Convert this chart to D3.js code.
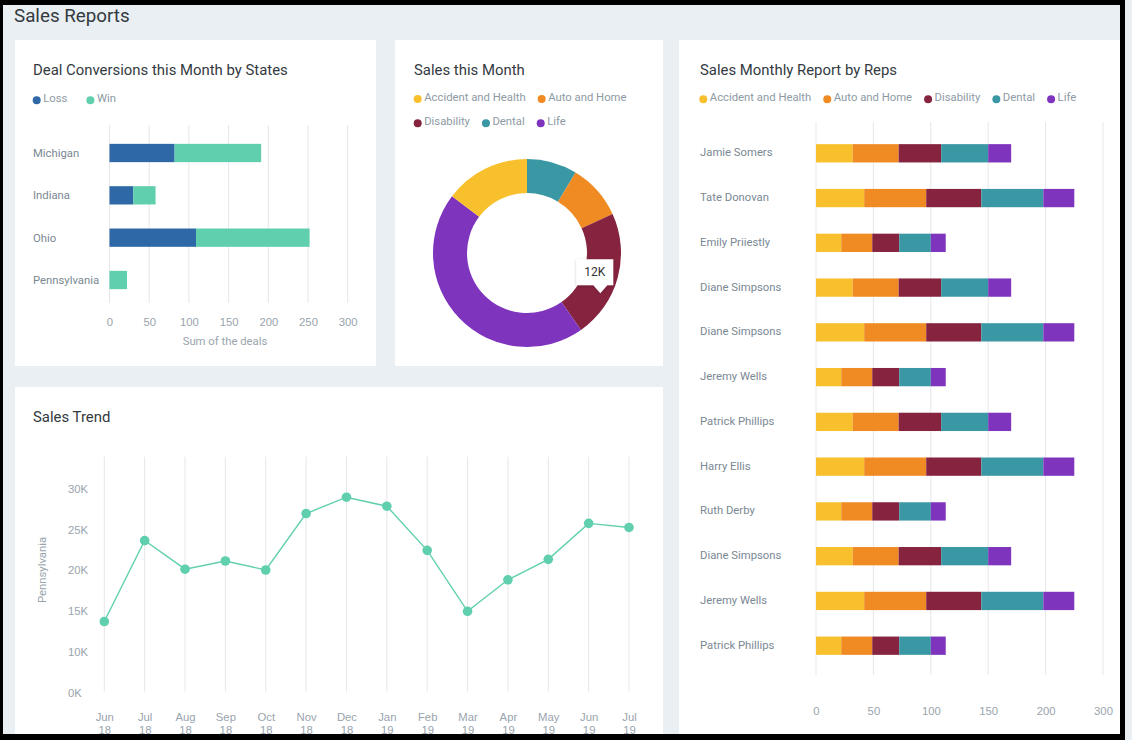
<!DOCTYPE html>
<html><head><meta charset="utf-8">
<script src="https://cdn.jsdelivr.net/npm/d3@7"></script>
<style>
body{margin:0;background:#e9eff2;}
svg{display:block;font-family:Roboto, "Noto Sans", sans-serif;}
</style>
</head><body>
<svg id="c" width="1132" height="740"></svg>
<script>
// ---------- DATA ----------
const stateCats = ["Michigan", "Indiana", "Ohio", "Pennsylvania"];
const dealKeys = ["Loss", "Win"];
const lossValues = [82, 30, 109, 0];
const winValues = [109, 28, 143, 22];
const dealTicks = [0, 50, 100, 150, 200, 250, 300];

const productCats = ["Accident and Health", "Auto and Home", "Disability", "Dental", "Life"];
const productColors = ["#f8c02c", "#ef8b22", "#86243f", "#3a97a4", "#7e34bd"];

const donutOrder = ["Dental", "Auto and Home", "Disability", "Life", "Accident and Health"];
const donutValues = [4.7, 5.2, 12, 24.5, 8]; // thousands
const tooltipCategory = "Disability";
const tooltipLabel = "12K";

const reps = ["Jamie Somers", "Tate Donovan", "Emily Priiestly", "Diane Simpsons", "Diane Simpsons", "Jeremy Wells",
  "Patrick Phillips", "Harry Ellis", "Ruth Derby", "Diane Simpsons", "Jeremy Wells", "Patrick Phillips"];
const accidentHealth = [32, 42, 22, 32, 42, 22, 32, 42, 22, 32, 42, 22];
const autoHome       = [40, 54, 27, 40, 54, 27, 40, 54, 27, 40, 54, 27];
const disability     = [37, 48, 23.5, 37, 48, 23.5, 37, 48, 23.5, 37, 48, 23.5];
const dental         = [41, 54, 27.5, 41, 54, 27.5, 41, 54, 27.5, 41, 54, 27.5];
const life           = [20, 52, 13, 20, 52, 13, 20, 52, 13, 20, 52, 13];
const repTicks = [0, 50, 100, 150, 200, 300];

const months = ["Jun 18", "Jul 18", "Aug 18", "Sep 18", "Oct 18", "Nov 18", "Dec 18", "Jan 19", "Feb 19", "Mar 19", "Apr 19", "May 19", "Jun 19", "Jul 19"];
const trendValues = [13.7, 23.6, 20.1, 21.1, 20.0, 26.9, 28.9, 27.8, 22.4, 14.95, 18.8, 21.3, 25.7, 25.2]; // thousands
const trendTicks = [0, 10, 15, 20, 25, 30];
const trendAxisLabel = "Pennsylvania";

// ---------- STYLE ----------
const FS = 11.3;
const C = {
  bg: "#e9eff2", title: "#333a3f", legend: "#8d9aa4", cat: "#7a8893", tick: "#99a4ad",
  grid: "#e6e7e9", loss: "#2f68a6", win: "#5fcfae", line: "#5fcfae"
};

const svg = d3.select("#c");
svg.append("rect").attr("width", 1132).attr("height", 740).attr("fill", C.bg);

const defs = svg.append("defs");
const f = defs.append("filter").attr("id", "sh").attr("x", "-30%").attr("y", "-30%").attr("width", "160%").attr("height", "180%");
f.append("feDropShadow").attr("dx", 0).attr("dy", 1).attr("stdDeviation", 1.6).attr("flood-color", "#000").attr("flood-opacity", 0.22);

// panels
[[15, 40, 361, 326], [395, 40, 268, 326], [679, 40, 446, 700], [15, 387, 648, 353]].forEach(p => {
  svg.append("rect").attr("x", p[0]).attr("y", p[1]).attr("width", p[2]).attr("height", p[3]).attr("fill", "#fff");
});

svg.append("text").attr("x", 14).attr("y", 22).attr("font-size", 18.8).attr("fill", C.title).text("Sales Reports");

function title(x, y, t) {
  svg.append("text").attr("x", x).attr("y", y).attr("dy", "0.35em").attr("font-size", 14.9).attr("fill", C.title).text(t);
}
function legend(items, colors, x, y, gap) {
  let cx = x;
  items.forEach((t, i) => {
    svg.append("circle").attr("cx", cx).attr("cy", y + 2.3).attr("r", 4).attr("fill", colors[i]);
    const tx = svg.append("text").attr("x", cx + 6.5).attr("y", y).attr("dy", "0.35em")
      .attr("font-size", FS).attr("fill", C.legend).text(t);
    cx += 6.5 + tx.node().getComputedTextLength() + gap;
  });
}
function evenScale(ticks, r0, r1) {
  return d3.scaleLinear().domain(ticks).range(ticks.map((d, i) => r0 + i * (r1 - r0) / (ticks.length - 1)));
}

// ---------- PANEL 1: Deal conversions ----------
title(33, 70, "Deal Conversions this Month by States");
legend(dealKeys, [C.loss, C.win], 36.7, 98, 23);
{
  const x = d3.scaleLinear().domain([0, 300]).range([109.5, 347.7]);
  const y = d3.scalePoint().domain(stateCats).range([153, 280]);
  const bh = 18.3;
  const g = svg.append("g");
  g.selectAll(".grid").data(dealTicks).join("line")
    .attr("x1", d => x(d)).attr("x2", d => x(d)).attr("y1", 125).attr("y2", 303)
    .attr("stroke", C.grid).attr("stroke-width", 1);
  const rows = stateCats.map((s, i) => ({ state: s, Loss: lossValues[i], Win: winValues[i] }));
  const series = d3.stack().keys(dealKeys)(rows);
  const col = { Loss: C.loss, Win: C.win };
  series.forEach(s => {
    g.selectAll(null).data(s).join("rect")
      .attr("x", d => x(d[0])).attr("width", d => x(d[1]) - x(d[0]))
      .attr("y", d => y(d.data.state) - bh / 2).attr("height", bh)
      .attr("fill", col[s.key]);
  });
  g.selectAll(".cat").data(stateCats).join("text")
    .attr("x", 33).attr("y", d => y(d)).attr("dy", "0.35em")
    .attr("font-size", FS).attr("fill", C.cat).text(d => d);
  const ax = svg.append("g").attr("transform", "translate(0,322)")
    .call(d3.axisBottom(x).tickValues(dealTicks).tickSize(0).tickFormat(d3.format("d")));
  ax.select(".domain").remove();
  ax.selectAll("text").attr("y", 0).attr("dy", "0.35em").attr("font-size", FS).attr("fill", C.tick).attr("font-family", null);
  svg.append("text").attr("x", 225).attr("y", 341).attr("dy", "0.35em").attr("text-anchor", "middle")
    .attr("font-size", FS).attr("fill", C.tick).text("Sum of the deals");
}

// ---------- PANEL 2: Donut ----------
title(414, 70, "Sales this Month");
legend(productCats.slice(0, 2), productColors.slice(0, 2), 417.7, 96.7, 16);
legend(productCats.slice(2), productColors.slice(2), 417.7, 121, 16);
{
  const color = d3.scaleOrdinal().domain(productCats).range(productColors);
  const pie = d3.pie().sort(null).value(d => d.v);
  const arcs = pie(donutOrder.map((c, i) => ({ c, v: donutValues[i] })));
  const arc = d3.arc().innerRadius(60).outerRadius(94);
  const g = svg.append("g").attr("transform", "translate(527,253)");
  g.selectAll("path").data(arcs).join("path").attr("d", arc).attr("fill", d => color(d.data.c));
  const t = arcs.find(a => a.data.c === tooltipCategory);
  const [cx, cy] = arc.centroid(t);
  const bx = cx - 25, by = cy - 14, bw = 37, bhh = 26, ax = cx - 1, ay = cy + 20;
  const p = d3.path();
  p.moveTo(bx, by); p.lineTo(bx + bw, by); p.lineTo(bx + bw, by + bhh);
  p.lineTo(ax + 7, by + bhh); p.lineTo(ax, ay); p.lineTo(ax - 7, by + bhh);
  p.lineTo(bx, by + bhh); p.closePath();
  g.append("path").attr("d", p.toString()).attr("fill", "#fff").attr("filter", "url(#sh)");
  g.append("text").attr("x", bx + bw / 2).attr("y", by + bhh / 2).attr("dy", "0.35em")
    .attr("text-anchor", "middle").attr("font-size", 12).attr("fill", "#333").text(tooltipLabel);
}

// ---------- PANEL 3: Reps ----------
title(700, 70, "Sales Monthly Report by Reps");
legend(productCats, productColors, 703.3, 97, 16);
{
  const x = evenScale(repTicks, 816, 1103);
  const idx = reps.map((d, i) => i);
  const y = d3.scalePoint().domain(idx).range([153.3, 645.7]);
  const bh = 18.3;
  const g = svg.append("g");
  g.selectAll(".grid").data(repTicks).join("line")
    .attr("x1", d => x(d)).attr("x2", d => x(d)).attr("y1", 122).attr("y2", 675)
    .attr("stroke", C.grid).attr("stroke-width", 1);
  const cols = [accidentHealth, autoHome, disability, dental, life];
  const rows = idx.map(i => {
    const o = { i };
    productCats.forEach((c, k) => o[c] = cols[k][i]);
    return o;
  });
  const series = d3.stack().keys(productCats)(rows);
  series.forEach((s, k) => {
    g.selectAll(null).data(s).join("rect")
      .attr("x", d => x(d[0])).attr("width", d => x(d[1]) - x(d[0]))
      .attr("y", d => y(d.data.i) - bh / 2).attr("height", bh)
      .attr("fill", productColors[k]);
  });
  g.selectAll(".cat").data(idx).join("text")
    .attr("x", 700).attr("y", d => y(d) - 1).attr("dy", "0.35em")
    .attr("font-size", FS).attr("fill", C.cat).text(d => reps[d]);
  const ax = svg.append("g").attr("transform", "translate(0,711.5)")
    .call(d3.axisBottom(x).tickValues(repTicks).tickSize(0).tickFormat(d3.format("d")));
  ax.select(".domain").remove();
  ax.selectAll("text").attr("y", 0).attr("dy", "0.35em").attr("font-size", FS).attr("fill", C.tick).attr("font-family", null);
}

// ---------- PANEL 4: Sales trend ----------
title(33, 417, "Sales Trend");
{
  const x = d3.scalePoint().domain(months).range([104.3, 629]);
  const y = evenScale(trendTicks, 692.7, 488.2);
  const g = svg.append("g");
  g.selectAll(".grid").data(months).join("line")
    .attr("x1", d => x(d)).attr("x2", d => x(d)).attr("y1", 456.7).attr("y2", 691.7)
    .attr("stroke", C.grid).attr("stroke-width", 1);
  const pts = months.map((m, i) => ({ m, v: trendValues[i] }));
  g.append("path").datum(pts)
    .attr("d", d3.line().x(d => x(d.m)).y(d => y(d.v)))
    .attr("fill", "none").attr("stroke", C.line).attr("stroke-width", 1.4);
  g.selectAll("circle").data(pts).join("circle")
    .attr("cx", d => x(d.m)).attr("cy", d => y(d.v)).attr("r", 4.8).attr("fill", C.line);

  const ay = svg.append("g").attr("transform", "translate(68,0)")
    .call(d3.axisLeft(y).tickValues(trendTicks).tickSize(0).tickFormat(d => d + "K"));
  ay.select(".domain").remove();
  ay.selectAll("text").attr("x", 0).attr("dy", "0.35em").attr("text-anchor", "start")
    .attr("font-size", FS).attr("fill", C.tick).attr("font-family", null);

  const ax = svg.append("g").attr("transform", "translate(0,716.7)")
    .call(d3.axisBottom(x).tickSize(0));
  ax.select(".domain").remove();
  ax.selectAll(".tick text").each(function (d) {
    const t = d3.select(this);
    const parts = d.split(" ");
    t.text(null).attr("y", 0).attr("dy", null).attr("font-size", FS).attr("fill", C.tick).attr("font-family", null);
    t.append("tspan").attr("x", 0).attr("y", 0).attr("dy", "0.35em").text(parts[0]);
    t.append("tspan").attr("x", 0).attr("y", 13.3).attr("dy", "0.35em").text(parts[1]);
  });

  svg.append("text").attr("transform", "translate(41.7,570) rotate(-90)")
    .attr("text-anchor", "middle").attr("dy", "0.35em").attr("font-size", FS).attr("fill", C.tick).text(trendAxisLabel);
}

// ---------- black frame ----------
[[0, 0, 1125, 5], [0, 0, 3, 740], [1120, 0, 5, 740], [0, 734, 1125, 6]].forEach(r => {
  svg.append("rect").attr("x", r[0]).attr("y", r[1]).attr("width", r[2]).attr("height", r[3]).attr("fill", "#000");
});
</script>
</body></html>
